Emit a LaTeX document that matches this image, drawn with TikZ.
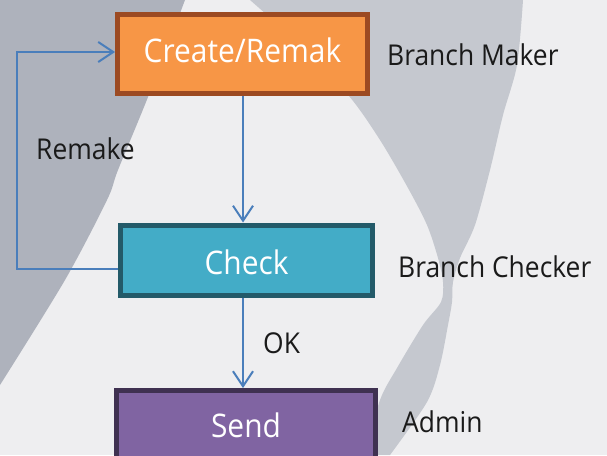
\documentclass[tikz,border=0pt]{standalone}
\usepackage{fontspec}
\setmainfont{Open Sans}[FakeStretch=0.92]
\usetikzlibrary{arrows.meta}
\definecolor{bgc}{HTML}{EEEEF0}
\definecolor{midg}{HTML}{C5C8CF}
\definecolor{darkg}{HTML}{AEB2BC}
\definecolor{orfill}{HTML}{F79646}
\definecolor{ordraw}{HTML}{9C4A22}
\definecolor{tlfill}{HTML}{43ACC7}
\definecolor{tldraw}{HTML}{235A69}
\definecolor{pufill}{HTML}{8064A2}
\definecolor{pudraw}{HTML}{3F3151}
\definecolor{linec}{HTML}{4A7EBB}
\definecolor{txt}{HTML}{1A1A1A}
\tikzset{
  stepbox/.style={draw, line width=5pt, rectangle, inner sep=0pt, text=white,
    font=\fontsize{32.5}{38}\selectfont},
  lbl/.style={anchor=base west, inner sep=0pt, text=txt,
    font=\fontsize{28.7}{34}\selectfont},
  arr/.style={draw=linec, line width=2pt,
    -{Straight Barb[length=15pt,width=20pt,line width=2pt]}},
}
\begin{document}
\begin{tikzpicture}[x=1pt,y=-1pt]
\clip (0,0) rectangle (607,455);
\fill[bgc] (0,0) rectangle (607,455);
% dark left shape
\fill[darkg] (0,0) -- plot[smooth] coordinates {(185,0) (148,97) (118,170) (107,200) (65,280) (0,385)} -- cycle;
% middle shape
\fill[midg] plot[smooth] coordinates {(250,0) (300,45) (349,96) (380,140) (408,188) (427,225) (438,258) (443,282) (441,302) (423,325) (397,368) (380,400) (365,455)}
  -- plot[smooth] coordinates {(390,455) (427,402) (440,365) (448,325) (452,302) (453,282) (460,258) (475,225) (490,170) (503,115) (517,65) (523,0)} -- cycle;
% boxes
\node[stepbox, fill=orfill, draw=ordraw, minimum width=250pt, minimum height=79pt,
  text height=24pt, text depth=8pt] (o) at (242.5,54) {Create/Remak};
\node[stepbox, fill=tlfill, draw=tldraw, minimum width=252pt, minimum height=70pt,
  text height=28pt, text depth=0pt] (c) at (246.5,260) {Check};
\node[stepbox, fill=pufill, draw=pudraw, minimum width=259pt, minimum height=79pt,
  text height=22pt, text depth=8pt] (s) at (246,430) {Send};
% labels
\node[lbl] (l1) at (387,65) {Branch Maker};
\node[lbl] (l2) at (398,277) {Branch Checker};
\node[lbl] (l3) at (402,432) {Admin};
\node[lbl] (l4) at (36,159) {Remake};
\node[lbl] (l5) at (263,353) {OK};
% connectors
\coordinate (ax) at (243,0);
\coordinate (fb1) at (17,269);
\coordinate (fb2) at (17,52);
\draw[arr] (o.south -| ax) -- (c.north -| ax);
\draw[arr] (c.south -| ax) -- (s.north -| ax);
\draw[arr] (c.west |- fb1) -- (fb1) -- (fb2) -- (o.west |- fb2);
\end{tikzpicture}
\end{document}
